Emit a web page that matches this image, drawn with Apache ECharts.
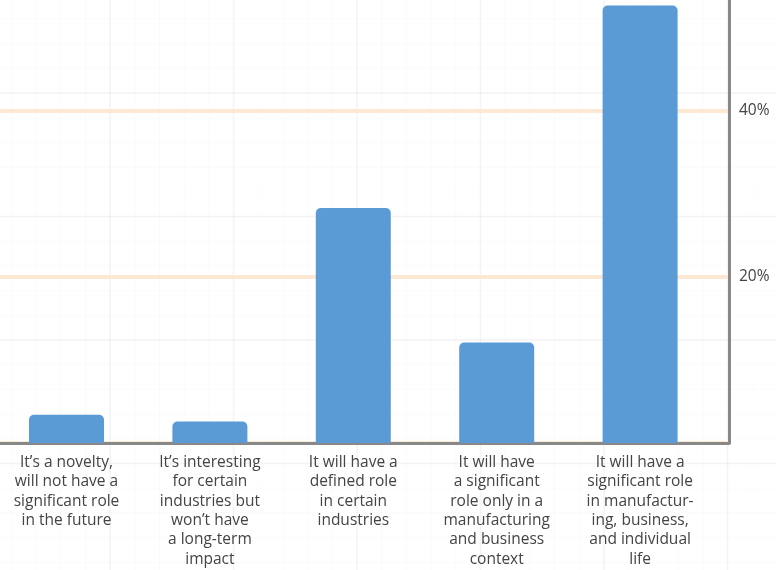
<!DOCTYPE html>
<html>
<head>
<meta charset="utf-8">
<script src="https://cdn.jsdelivr.net/npm/echarts@6/dist/echarts.min.js"></script>
<style>
  html, body { margin: 0; padding: 0; }
  body {
    width: 776px; height: 570px; overflow: hidden;
    background-color: #ffffff;
    /* faint graph-paper backdrop */
    background-image:
      linear-gradient(to right, rgba(0,0,0,0.028) 2px, transparent 2px),
      linear-gradient(to bottom, rgba(0,0,0,0.028) 2px, transparent 2px),
      linear-gradient(to right, rgba(0,0,0,0.014) 1px, transparent 1px),
      linear-gradient(to bottom, rgba(0,0,0,0.014) 1px, transparent 1px);
    background-size: 123.5px 123.5px, 123.5px 123.5px, 24.7px 24.7px, 24.7px 24.7px;
    background-position: 109px 0, 0 92px, 11px 0, 0 18.6px;
  }
  #chart { width: 776px; height: 570px; }
</style>
</head>
<body>
<div id="chart"></div>
<script>
// Survey answers (one bar per answer)
const categories = [
  'It’s a novelty,\nwill not have a\nsignificant role\nin the future',
  'It’s interesting\nfor certain\nindustries but\nwon’t have\na long-term\nimpact',
  'It will have a\ndefined role\nin certain\nindustries',
  'It will have\na significant\nrole only in a\nmanufacturing\nand business\ncontext',
  'It will have a\nsignificant role\nin manufactur-\ning, business,\nand individual\nlife'
];
// Share of respondents, percent
const shares = [3.4, 2.6, 28.3, 12.1, 52.7];
// Value axis range and ticks
const axisMin = 0;
const axisMax = 60;
const axisStep = 20;

const FONT = '"Open Sans", "Noto Sans", sans-serif';
const TEXT = '#444444';
const AXIS = '#888888';

const chart = echarts.init(document.getElementById('chart'), null, { renderer: 'canvas' });

chart.setOption({
  backgroundColor: 'transparent',
  animation: false,
  textStyle: { fontFamily: FONT },
  grid: [
    // frame: axis lines, gridlines and percent labels
    { left: -10, right: 47, top: -55, bottom: 127, outerBoundsMode: 'none', containLabel: false },
    // bars and their category labels
    { left: -5.2, right: 64.2, top: -55, bottom: 127, outerBoundsMode: 'none', containLabel: false }
  ],
  xAxis: [
    {
      gridIndex: 0, type: 'category', data: [''],
      axisLine: { show: true, lineStyle: { color: AXIS, width: 3 } },
      axisTick: { show: false }, axisLabel: { show: false },
      splitLine: { show: false }
    },
    {
      gridIndex: 1, type: 'category', data: categories,
      axisLine: { show: false }, axisTick: { show: false },
      axisLabel: {
        interval: 0, margin: 10, color: TEXT,
        fontFamily: FONT, fontSize: 15.5, lineHeight: 19.3, align: 'center'
      }
    }
  ],
  yAxis: [
    {
      gridIndex: 0, type: 'value', position: 'right',
      min: axisMin, max: axisMax, interval: axisStep,
      axisLine: { show: true, lineStyle: { color: AXIS, width: 3 } },
      axisTick: { show: false },
      axisLabel: {
        margin: 10, color: TEXT, fontFamily: FONT, fontSize: 15.5,
        formatter: v => (v === 0 ? '' : v + '%')
      },
      splitLine: { show: true, lineStyle: { color: '#fde8d3', width: 4 } }
    },
    {
      gridIndex: 1, type: 'value', min: axisMin, max: axisMax,
      show: false, splitLine: { show: false }
    }
  ],
  series: [
    {
      type: 'bar', xAxisIndex: 1, yAxisIndex: 1,
      data: shares, barWidth: 75,
      itemStyle: { color: '#5b9bd5', borderRadius: [5, 5, 0, 0] }
    }
  ]
});
</script>
</body>
</html>
